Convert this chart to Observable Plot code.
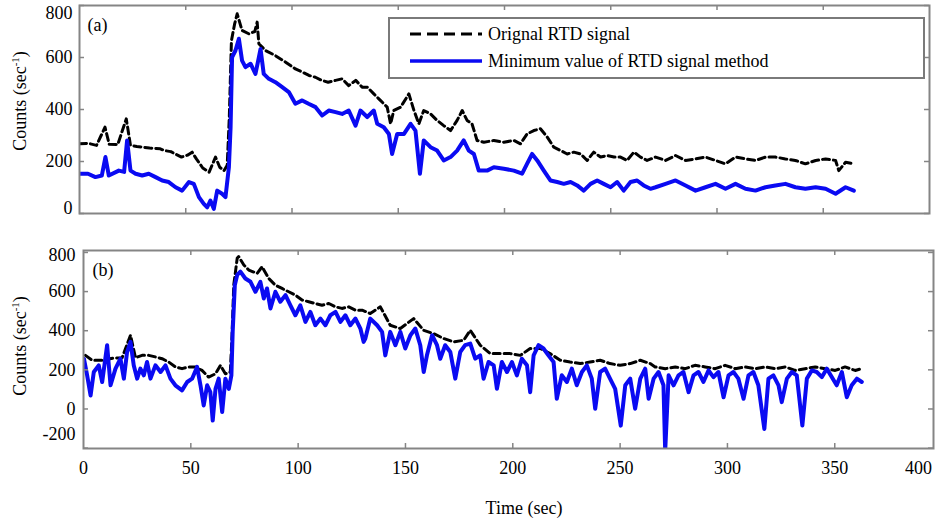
<!DOCTYPE html>
<html><head><meta charset="utf-8">
<script src="https://cdn.jsdelivr.net/npm/d3@7"></script>
<script src="https://cdn.jsdelivr.net/npm/@observablehq/plot@0.6"></script>
<style>
body{margin:0;background:#fff;}
#wrap{position:relative;width:935px;height:523px;overflow:hidden;font-family:"Liberation Serif","Times New Roman",serif;font-size:18px;color:#000;}
.abs{position:absolute;}
.ylab{white-space:nowrap;line-height:18px;transform:translate(-50%,-50%) rotate(-90deg);}
.ylab sup{font-size:11px;vertical-align:7px;line-height:0;}
</style></head><body><div id="wrap"></div>
<script>
// ---- data (time in sec, counts in sec^-1) ----
const origA = [[0,268],[4,270],[8,262],[12,332],[14,266],[18,265],[22,364],[24,262],[27,258],[30,255],[33,252],[36,250],[38,249],[40,242],[43,238],[45,229],[48,217],[51,225],[53,236],[55,210],[58,175],[61,159],[64,217],[66,178],[68,165],[69.5,185],[70.5,370],[71.5,665],[73,729],[74.2,768],[76.5,704],[79.7,691],[82.5,700],[83.6,736],[84.4,653],[87.5,627],[92,608],[97,582],[101.6,556],[104.8,544],[108,531],[111,524],[114,512],[117,505],[120.5,512],[123.6,518],[126.7,492],[130,512],[133,486],[135.4,486],[138.5,460],[141.6,435],[144.8,409],[146.4,345],[147.9,396],[151.1,409],[155,460],[157.4,396],[159.7,345],[162,396],[165.2,383],[168.3,358],[171.4,338],[174.6,319],[177.7,358],[180.1,396],[182.4,358],[184.7,345],[187.1,281],[190.3,274],[195,281],[199.7,274],[204.4,281],[207.5,268],[210.6,306],[213.8,319],[216.9,326],[220.1,294],[223.2,255],[226.4,242],[229.5,229],[232.6,236],[235.8,229],[238.9,204],[242,236],[245.2,217],[248.3,223],[251.5,217],[254.6,217],[257.7,204],[260.9,236],[264,217],[267.1,204],[271.1,217],[275.8,204],[280.5,223],[285.2,204],[289.9,210],[294.6,217],[299.3,204],[304,191],[308.7,217],[313.4,210],[318.1,204],[322.8,217],[327.5,217],[332.2,210],[336.9,204],[341.6,191],[346.4,204],[351.1,210],[355.8,204],[357.3,165],[360.5,197],[364.4,191]];

const minA = [[0,153],[4,153],[7.5,140],[10.5,146],[12.2,217],[13.8,146],[18.5,165],[21,160],[22.4,281],[24,165],[26.4,153],[29.5,146],[32.6,153],[35.8,140],[38.9,127],[42,121],[45.2,101],[48.3,88],[51.5,121],[53.8,114],[56.2,63],[58.5,37],[60.1,24],[61.6,50],[63.2,18],[64.8,88],[67.1,76],[68.7,63],[70.3,178],[71.1,332],[71.8,601],[73.4,627],[75,672],[76.5,588],[78.1,563],[80.5,576],[82.8,537],[84.4,600],[85.2,633],[86.7,537],[89.1,518],[92.2,505],[95.4,486],[98.5,467],[101.6,422],[104.8,435],[107.8,422],[111.1,409],[114.2,377],[117.3,396],[120.5,390],[123.6,383],[126.7,396],[129.9,338],[132.2,396],[135.4,371],[138.5,396],[140.1,345],[143.2,332],[145.6,306],[147.1,229],[149.5,306],[152.7,306],[155.8,345],[158.1,319],[160.2,153],[162,281],[165.2,255],[168.3,242],[171.4,204],[174.6,217],[177.7,242],[180.8,281],[183.2,242],[185.6,229],[187.9,165],[191.8,165],[195,178],[199.7,172],[204.4,165],[208.3,153],[210.6,191],[213,229],[215.4,204],[218.5,165],[221.6,127],[224.8,121],[227.9,114],[231.1,121],[234.2,108],[237.3,88],[240.5,114],[243.6,127],[246.7,114],[249.9,101],[253,121],[256.1,88],[259.3,121],[262.4,127],[265.5,108],[268.7,95],[271.1,101],[275.8,114],[280.5,127],[285.2,108],[289.9,88],[294.6,101],[299.3,114],[304,95],[308.7,114],[313.4,95],[318.1,88],[322.8,101],[327.5,108],[332.2,114],[336.9,101],[341.6,95],[346.4,101],[351.1,95],[355.8,76],[360.5,101],[364.4,88]];

const origB = [[0.9,274],[4,249],[8.7,249],[14,260],[18,262],[21.9,377],[24.2,262],[27.3,274],[30.4,274],[33.5,266],[36.6,257],[39.7,240],[42.8,215],[45.9,206],[49,215],[52.1,215],[55.2,197],[58.3,163],[61.5,180],[63.8,223],[66.1,180],[68.4,189],[69.2,377],[70,633],[71.6,770],[72.3,779],[74.7,736],[77,710],[80.9,693],[83.2,727],[86.3,667],[89.4,633],[92.5,616],[95.6,599],[98.7,582],[101.8,557],[104.9,548],[108,539],[111.1,530],[114.3,539],[117.4,522],[120.4,514],[123.6,522],[126.7,505],[129.8,505],[133.6,488],[138.3,522],[142.9,428],[147.6,411],[153.8,462],[158.5,402],[163.1,385],[167.8,360],[172.4,343],[177.1,351],[180.2,402],[184.8,326],[189.5,283],[194.2,283],[198.8,283],[203.5,274],[208.1,309],[212.8,309],[217.4,283],[222.1,249],[226.7,240],[231.4,232],[236,240],[240.7,249],[245.3,232],[250,223],[254.7,232],[259.4,249],[264,232],[266.3,215],[271,206],[275.7,215],[280.3,206],[284.9,223],[289.6,215],[294.3,206],[298.9,223],[303.6,206],[308.2,215],[312.9,206],[317.6,215],[322.2,206],[326.9,215],[331.5,197],[336.2,206],[340.9,215],[345.5,206],[350.2,197],[354.8,215],[359.5,197],[362.6,206]];

const minB = [[0.2,257],[1.7,172],[3.3,69],[4.8,189],[7.1,223],[8.7,138],[11,326],[12.6,121],[14.9,206],[17.2,257],[18.8,155],[20.3,291],[21.9,343],[23.4,223],[25,155],[26.5,206],[28.1,172],[29.6,240],[31.2,155],[33.5,223],[35.9,189],[38.2,223],[40.5,155],[42.8,121],[45.9,95],[48.3,138],[50.6,155],[52.9,215],[54.5,121],[56,18],[57.6,121],[59.1,86],[60.2,-59],[61.5,103],[63,155],[64.6,-16],[66.1,155],[67.7,103],[68.9,172],[69.5,394],[70.5,633],[71.6,685],[73.1,702],[75.4,667],[77.8,650],[80.1,599],[82.4,650],[84,565],[85.5,616],[87.1,514],[89.4,599],[91.7,548],[94.1,582],[96.4,530],[98.7,479],[101,530],[103.4,445],[105.7,496],[108,428],[110.4,462],[112.7,428],[115,479],[117.4,496],[119.7,445],[122,479],[124.3,428],[126.7,462],[129,411],[130.5,343],[131.3,360],[133.6,462],[136.8,428],[139.1,394],[140.6,274],[142.9,394],[145.3,326],[147.6,394],[149.9,309],[152.3,377],[154.6,411],[156.9,326],[158.5,189],[160,274],[162.4,377],[164.7,326],[166.2,257],[168.5,326],[170.9,291],[173.2,155],[175.5,291],[177.8,326],[180.2,334],[182.5,257],[184.8,274],[186.4,155],[188.7,240],[191.1,223],[192.6,103],[194.9,240],[197.3,189],[199.6,240],[201.9,172],[204.2,257],[206.6,223],[208.1,86],[209.7,274],[212,326],[214.3,309],[216.6,274],[219,240],[220.5,52],[222.8,172],[225.2,138],[227.5,206],[229.8,121],[232.2,189],[234.5,223],[236.8,155],[238.4,1],[240.7,189],[243,206],[245.3,155],[247.7,103],[250.3,-85],[252.4,121],[254.7,155],[257,1],[259.4,155],[261.7,206],[263.3,52],[265.6,155],[267.9,189],[270.2,121],[271,-215],[272.6,172],[274.9,121],[277.2,172],[279.5,189],[281.9,86],[284.2,172],[286.5,189],[288.8,138],[291.2,197],[293.5,163],[295.8,189],[298.2,60],[300.5,172],[302.8,189],[305.1,155],[307.5,52],[309.8,172],[312.1,189],[314.4,121],[317.2,-102],[319.1,155],[321.4,172],[323.8,121],[325.3,35],[327.7,155],[330,189],[332.3,172],[334.9,-85],[337,155],[339.3,197],[341.6,189],[344,163],[346.3,206],[348.6,163],[350.9,121],[353.3,189],[355.6,60],[357.9,121],[360.3,155],[362.6,138]];

const xTickMarks = [50,100,150,200,250,300,350];
const xTickLabels = [0,50,100,150,200,250,300,350];
const xLastLabel = [400];
const yTicksA = [0,200,400,600,800];
const yTicksB = [-200,0,200,400,600,800];
const legendLabels = ["Orignal RTD signal","Minimum value of RTD signal method"];
const yTitle = "Counts (sec";
const xTitle = "Time (sec)";

const BLUE = "#0a0af2", FRAME = "#858585", FONT = '"Liberation Serif","Times New Roman",serif';
const wrap = document.getElementById("wrap");

function panel(o) {
  const innerW = o.width - o.ml - o.mr, innerH = o.height - o.mt - o.mb, T = 5;
  const marks = [
    Plot.line(o.orig, {x: d => d[0], y: d => d[1], stroke: "#000", strokeWidth: 3, strokeDasharray: "7,4", clip: true}),
    Plot.line(o.minv, {x: d => d[0], y: d => d[1], stroke: BLUE, strokeWidth: o.bw, clip: true}),
    Plot.tickX(xTickMarks, {x: d => d, stroke: FRAME, strokeWidth: 1.5, insetTop: innerH - T}),
    Plot.tickX(xTickMarks, {x: d => d, stroke: FRAME, strokeWidth: 1.5, insetBottom: innerH - T}),
    Plot.tickY(o.yTicks, {y: d => d, stroke: FRAME, strokeWidth: 1.5, insetRight: innerW - T}),
    Plot.tickY(o.yTicks, {y: d => d, stroke: FRAME, strokeWidth: 1.5, insetLeft: innerW - T}),
    Plot.frame({stroke: FRAME, strokeWidth: 2}),
    Plot.text([o.tag], {text: d => d, frameAnchor: "top-left", dx: o.tagDx, dy: 20, textAnchor: "start", lineAnchor: "middle", fill: "#000"})
  ];
  // y tick labels (the outermost labels sit slightly inside the frame, as in the reference)
  for (const [ticks, dy] of o.yLabelGroups) {
    marks.push(Plot.axisY({ticks, tickSize: 0, tickPadding: o.yPad, tickFormat: d => String(d), dy, fill: "#000"}));
  }
  if (o.xLabels) {
    marks.push(Plot.axisX({ticks: xTickLabels, tickSize: 0, tickPadding: 13, tickFormat: d => String(d), fill: "#000"}));
    marks.push(Plot.axisX({ticks: xLastLabel, tickSize: 0, tickPadding: 13, tickFormat: d => String(d), textAnchor: "end", dx: -10, fill: "#000"}));
  }
  const svg = Plot.plot({
    width: o.width, height: o.height,
    marginTop: o.mt, marginBottom: o.mb, marginLeft: o.ml, marginRight: o.mr,
    x: {domain: o.xDomain, label: null, axis: o.xLabels ? undefined : null},
    y: {domain: o.yDomain, label: null},
    style: {fontFamily: FONT, fontSize: "18px", background: "transparent", color: "#000", overflow: "visible"},
    marks
  });
  svg.style.position = "absolute";
  svg.style.left = "0px";
  svg.style.top = o.top + "px";
  wrap.appendChild(svg);
}

panel({orig: origA, minv: minA, yTicks: yTicksA, xDomain: [0, 400], yDomain: [0, 800],
  width: 935, height: 225, mt: 5, mb: 12, ml: 79, mr: 6, top: 0, yPad: 7, tag: "(a)", tagDx: 8, bw: 4, xLabels: false,
  yLabelGroups: [[[800], 8], [[200, 400, 600], 0], [[0], -5]]});
panel({orig: origB, minv: minB, yTicks: yTicksB, xDomain: [0, 396], yDomain: [-202, 810],
  width: 935, height: 250, mt: 10, mb: 42, ml: 83, mr: 2, top: 240, yPad: 8, tag: "(b)", tagDx: 9, bw: 4, xLabels: true,
  yLabelGroups: [[[800], 3], [[0, 200, 400, 600], 0], [[-200], -14]]});

// legend box (panel a)
const leg = document.createElement("div");
leg.className = "abs";
leg.style.cssText = "left:388px;top:17px;width:533px;height:58px;border:2px solid #7a7a7a;background:#fff;";
leg.innerHTML = `<svg width="100" height="58" style="position:absolute;left:0;top:0">
  <line x1="20" y1="15" x2="92" y2="15" stroke="#000" stroke-width="3" stroke-dasharray="11,6"/>
  <line x1="20" y1="42" x2="92" y2="42" stroke="${BLUE}" stroke-width="3.5"/></svg>
  <div style="position:absolute;left:98px;top:5px;line-height:20px;white-space:nowrap">${legendLabels[0]}</div>
  <div style="position:absolute;left:98px;top:32px;line-height:20px;white-space:nowrap">${legendLabels[1]}</div>`;
wrap.appendChild(leg);

// axis titles
function addYTitle(cx, cy) {
  const d = document.createElement("div");
  d.className = "abs ylab";
  d.style.left = cx + "px";
  d.style.top = cy + "px";
  d.innerHTML = yTitle + "<sup>-1</sup>)";
  wrap.appendChild(d);
}
addYTitle(20, 101);
addYTitle(20, 346);
const xt = document.createElement("div");
xt.className = "abs";
xt.style.cssText = "left:524px;top:508px;transform:translate(-50%,-50%);white-space:nowrap;line-height:20px;";
xt.textContent = xTitle;
wrap.appendChild(xt);
</script></body></html>
